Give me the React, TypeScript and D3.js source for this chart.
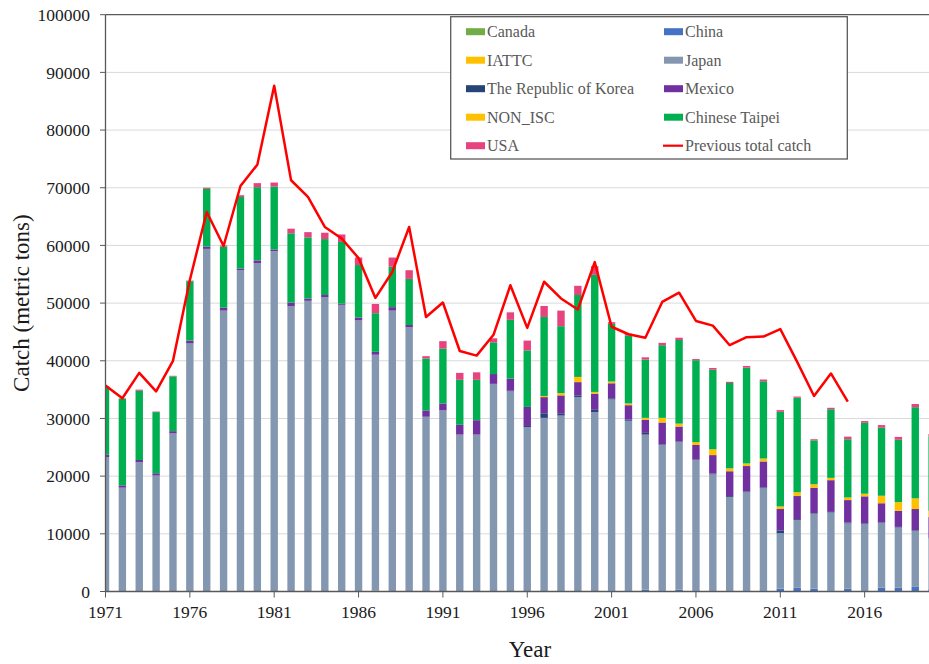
import React from "react";
import * as d3 from "d3";

const years = d3.range(1971, 2021);

const canada = [0,0,0,0,0,0,0,0,0,0,0,0,0,0,0,0,150,0,0,0,0,0,0,0,0,0,0,0,0,0,0,0,0,0,0,0,0,0,0,0,0,0,0,0,0,0,0,0,0,0];
const china = [0,0,0,0,0,0,0,0,0,0,0,0,0,0,0,0,0,0,0,0,0,0,0,0,0,0,0,0,0,0,200,200,300,200,300,200,100,100,200,200,500,700,500,200,500,100,700,700,800,500];
const iattc = [0,0,0,0,0,0,0,0,0,0,0,0,0,0,0,0,0,0,0,0,0,0,0,0,0,0,0,0,0,0,0,0,0,0,0,0,0,0,0,0,0,0,0,0,0,0,0,0,0,0];
const japan = [23300,18000,22400,20100,27400,43000,59400,48700,55700,56900,59000,49500,50400,51000,49700,47000,40900,48700,45800,30300,31400,27200,27200,36000,34700,28500,30100,30500,33700,31100,33100,29400,26900,25200,25600,22600,20200,16300,17000,17700,9600,11700,13000,13500,11300,11600,11200,10400,9700,8700];
const korea = [0,0,0,0,0,0,0,0,0,0,0,0,0,0,0,0,0,0,0,0,0,0,0,0,100,200,800,300,300,400,200,200,300,100,100,100,150,150,150,150,500,150,100,100,150,100,100,100,100,100];
const mexico = [400,400,400,400,400,500,400,500,300,500,300,600,400,400,200,500,500,600,400,1100,1200,1700,2500,1700,2100,3300,2800,3200,2300,2800,2600,2500,2300,3800,2600,2500,3200,4300,4400,4500,3700,4000,4400,5500,3900,4700,3300,2800,3700,3600];
const nonIsc = [0,0,0,0,0,0,0,0,0,0,0,0,0,0,0,0,0,0,0,0,0,0,0,0,0,0,200,400,900,300,300,300,300,800,500,500,1000,500,450,500,450,650,600,400,450,450,1300,1500,1850,1100];
const taipei = [11800,15000,12000,10600,9500,10300,10000,10600,12400,12700,10900,12000,10600,9700,10700,9100,6700,7000,8000,9000,9500,7800,7000,5500,10200,9800,13700,11600,14200,20300,10000,11800,10100,12600,14500,14200,13800,14800,16600,13400,16400,16400,7600,11900,10100,12300,11800,10800,15800,12900];
const usa = [50,100,200,100,100,100,200,200,300,700,700,800,900,1100,1300,1300,1600,1600,1500,400,1300,1200,1300,700,1300,1700,1900,2700,1600,1500,300,300,400,400,400,200,300,200,300,300,300,200,200,250,450,300,450,500,550,400];

const prevYears = d3.range(1971, 2016);
const prevTotal = [35700,33500,37900,34700,40000,54000,65800,59900,70300,74000,87700,71300,68400,63200,61200,57800,50900,55400,63200,47600,50100,41700,40900,44500,53100,45700,53700,50800,48900,57100,45900,44600,44000,50200,51800,46900,46100,42700,44100,44200,45500,39800,33900,37800,32900];

const seriesNames = ["Canada","China","IATTC","Japan","The Republic of Korea","Mexico","NON_ISC","Chinese Taipei","USA"];
const seriesValues = [canada, china, iattc, japan, korea, mexico, nonIsc, taipei, usa];
const seriesColors = ["#70AD47","#4472C4","#FFC000","#8497B0","#264478","#7030A0","#FFC000","#00B050","#E6437F"];

const yTicks = d3.range(0, 100001, 10000);
const xTicks = [1971, 1976, 1981, 1986, 1991, 1996, 2001, 2006, 2011, 2016];

export default function App() {
  const W = 929, H = 664;
  const left = 105.5, top = 14.7, bottom = 591.5;
  const x = d3.scaleLinear().domain([1971, 2021]).range([left, left + 50 * 16.87]);
  const y = d3.scaleLinear().domain([0, 100000]).range([bottom, top]);
  const barW = 7.4;

  const table = years.map((yr, i) => {
    const row: any = { year: yr };
    seriesNames.forEach((n, k) => (row[n] = seriesValues[k][i]));
    return row;
  });
  const stacked = d3.stack().keys(seriesNames)(table);

  const line = d3.line<number>().x((_, i) => x(prevYears[i])).y((d) => y(d));

  const fontStyle = { fontFamily: '"Liberation Serif", "Times New Roman", "DejaVu Serif", serif' };
  const axisColor = "#595959";

  const legendRows = [];
  for (let i = 0; i < 10; i++) {
    const col = i % 2, row = Math.floor(i / 2);
    legendRows.push({ i, col, row });
  }

  return (
    <svg width={W} height={H} style={{ position: "absolute", left: 0, top: 0, background: "#fff", ...fontStyle }}>
      <defs>
        <clipPath id="plotClip">
          <rect x={left} y={0} width={W - left} height={bottom + 1} />
        </clipPath>
      </defs>
      <rect x={0} y={0} width={W} height={H} fill="#fff" />
      {yTicks.slice(1, -1).map((t) => (
        <line key={t} x1={left} x2={W} y1={y(t)} y2={y(t)} stroke="#D9D9D9" strokeWidth={1} />
      ))}
      <line x1={left} x2={W} y1={y(100000)} y2={y(100000)} stroke={axisColor} strokeWidth={1.3} />
      <g clipPath="url(#plotClip)">
        {stacked.map((s, k) => (
          <g key={seriesNames[k]} fill={seriesColors[k]}>
            {s.map((d, i) => {
              const h = y(d[0]) - y(d[1]);
              if (h <= 0) return null;
              return <rect key={i} x={x(years[i]) - barW / 2} y={y(d[1])} width={barW} height={h} />;
            })}
          </g>
        ))}
        <path d={line(prevTotal) || ""} fill="none" stroke="#FF0000" strokeWidth={2.5} strokeLinejoin="round" />
      </g>
      <line x1={left} x2={left} y1={top} y2={bottom} stroke={axisColor} strokeWidth={1.3} />
      <line x1={left} x2={W} y1={bottom} y2={bottom} stroke={axisColor} strokeWidth={1.3} />
      {yTicks.map((t) => (
        <g key={t}>
          <line x1={left - 5.5} x2={left} y1={y(t)} y2={y(t)} stroke={axisColor} strokeWidth={1} />
          <text x={90} y={y(t)} dy="0.35em" textAnchor="end" fontSize={17.5} fill="#1a1a1a" style={fontStyle}>{t}</text>
        </g>
      ))}
      {xTicks.map((t) => (
        <g key={t}>
          <line x1={x(t)} x2={x(t)} y1={bottom} y2={bottom + 6} stroke={axisColor} strokeWidth={1} />
          <text x={x(t)} y={618} textAnchor="middle" fontSize={17.5} fill="#1a1a1a" style={fontStyle}>{t}</text>
        </g>
      ))}
      <text x={530} y={657} textAnchor="middle" fontSize={23} fill="#1a1a1a" style={fontStyle}>Year</text>
      <text transform={`translate(29, ${(top + bottom) / 2}) rotate(-90)`} textAnchor="middle" fontSize={23} fill="#1a1a1a" style={fontStyle}>Catch (metric tons)</text>
      <rect x={450.7} y={16.7} width={396.6} height={142.3} fill="#fff" stroke={axisColor} strokeWidth={1.3} />
      {legendRows.map(({ i, col, row }) => {
        const sx = col === 0 ? 466 : 664;
        const cy = 31.7 + row * 28.5;
        const isLine = i === 9;
        const name = isLine ? "Previous total catch" : seriesNames[i];
        const color = isLine ? "#FF0000" : seriesColors[i];
        return (
          <g key={i}>
            {isLine ? (
              <line x1={sx - 1} x2={sx + 19} y1={cy} y2={cy} stroke={color} strokeWidth={2.2} />
            ) : (
              <rect x={sx} y={cy - 3.5} width={19} height={7} fill={color} />
            )}
            <text x={sx + 21} y={cy} dy="0.35em" fontSize={16} fill="#595959" style={fontStyle}>{name}</text>
          </g>
        );
      })}
    </svg>
  );
}
